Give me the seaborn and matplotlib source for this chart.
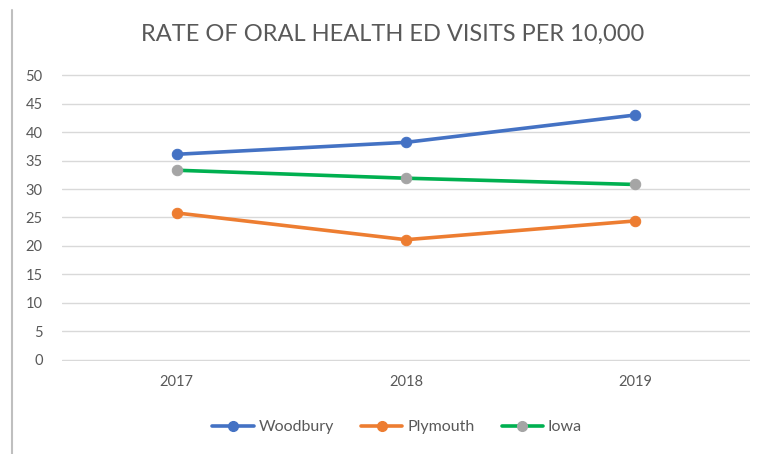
import numpy as np
import pandas as pd
import matplotlib
matplotlib.use("Agg")
import matplotlib.pyplot as plt
import seaborn as sns
from matplotlib.lines import Line2D

# data
years = ["2017", "2018", "2019"]
woodbury = [36.1, 38.2, 43.0]
plymouth = [25.8, 21.1, 24.4]
iowa = [33.3, 31.9, 30.8]

series_names = ["Woodbury", "Plymouth", "Iowa"]
line_colors = ["#4472C4", "#ED7D31", "#00B050"]
marker_colors = ["#4472C4", "#ED7D31", "#A5A5A5"]

df = pd.DataFrame({"Year": years, "Woodbury": woodbury,
                   "Plymouth": plymouth, "Iowa": iowa})
long_df = df.melt(id_vars="Year", var_name="Series", value_name="Rate")

sns.set_style("white")
plt.rcParams["font.family"] = ["Lato", "DejaVu Sans"]

fig = plt.figure(figsize=(7.71, 4.54), dpi=100)
ax = fig.add_axes([62 / 771, 1 - 361 / 454, 688 / 771, 287 / 454])

for name, lc, mc in zip(series_names, line_colors, marker_colors):
    sub = long_df[long_df["Series"] == name]
    sns.lineplot(data=sub, x="Year", y="Rate", ax=ax, color=lc, linewidth=2.6,
                 marker="o", markersize=7.5, markerfacecolor=mc,
                 markeredgecolor=mc, sort=False, legend=False)

ax.set_xlim(-0.5, 2.5)
ax.set_ylim(-0.2, 50.2)
ax.set_yticks(np.arange(0, 51, 5))
ax.yaxis.grid(True, color="#D9D9D9", linewidth=1)
ax.set_axisbelow(True)
for s in ax.spines.values():
    s.set_visible(False)
ax.set_xlabel("")
ax.set_ylabel("")
ax.tick_params(axis="both", length=0, labelsize=10.5, colors="#595959")
ax.tick_params(axis="y", pad=14)
ax.tick_params(axis="x", pad=10)

fig.text(393 / 771, 1 - 34 / 454, "RATE OF ORAL HEALTH ED VISITS PER 10,000",
         ha="center", va="center", fontsize=17, color="#595959")

handles = [Line2D([0], [0], color=lc, linewidth=2.6, marker="o", markersize=7,
                  markerfacecolor=mc, markeredgecolor=mc)
           for lc, mc in zip(line_colors, marker_colors)]
fig.legend(handles, series_names, loc="center", bbox_to_anchor=(397 / 771, 1 - 427 / 454),
           ncol=3, frameon=False, fontsize=11.5, handlelength=2.6, columnspacing=1.7,
           handletextpad=0.3, labelcolor="#595959")

# light frame on the left like the screenshot border
fig.add_artist(Line2D([12 / 771, 12 / 771], [0, 1 - 10 / 454], color="#BFBFBF",
                      linewidth=1.5, transform=fig.transFigure))

fig.savefig("out.png", dpi=100, facecolor="white")
